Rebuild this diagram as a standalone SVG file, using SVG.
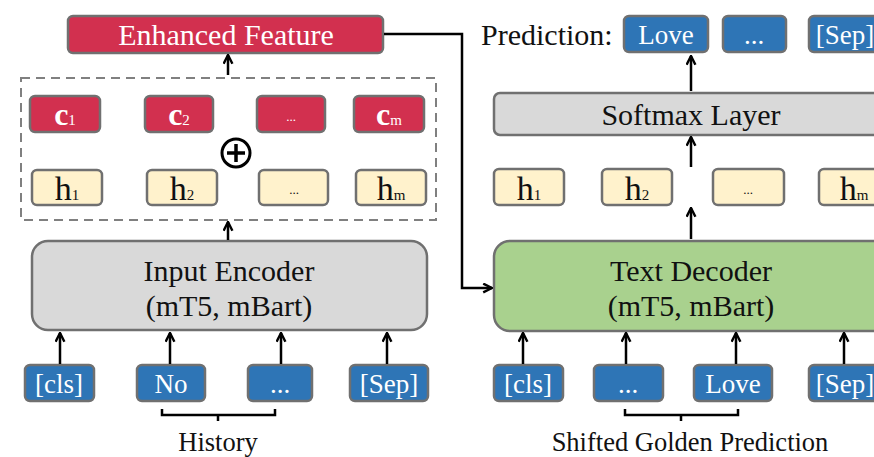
<svg xmlns="http://www.w3.org/2000/svg" width="874" height="457" viewBox="0 0 874 457">
<defs>
<marker id="ah" viewBox="0 0 10 10" refX="9" refY="5" markerWidth="11" markerHeight="11" markerUnits="userSpaceOnUse" orient="auto">
<path d="M1,1 L9,5 L1,9" fill="none" stroke="#000" stroke-width="2.2"/>
</marker>
<style>
text{font-family:"Liberation Serif","Times New Roman",serif;text-anchor:middle}
.box{stroke:#707070;stroke-width:2.5}
.red{fill:#D2304F}
.blue{fill:#2E75B6}
.yel{fill:#FFF2CC}
.gray{fill:#D9D9D9}
.green{fill:#A9D18E}
.wt{fill:#fff}
.bt{fill:#111}
.big{font-size:30px}
.tok{font-size:27px}
.cv{font-size:32px;font-weight:bold}
.hv{font-size:34px}
.sub{font-size:15px;font-weight:normal}
.dots{font-size:13px}
.lbl{font-size:26.5px}
.arr{stroke:#000;stroke-width:2.5;fill:none;marker-end:url(#ah)}
.ln{stroke:#000;stroke-width:2.5;fill:none}
</style>
</defs>

<g id="enhanced-feature">
<rect class="box red" x="68" y="16" width="315" height="37" rx="5"/>
<text class="wt big" x="226" y="45">Enhanced Feature</text>
</g>

<g id="dashed-group">
<rect x="21" y="78" width="415" height="142" fill="none" stroke="#808080" stroke-width="2" stroke-dasharray="9,6"/>
</g>

<g id="c1"><rect class="box red" x="30" y="96" width="70" height="36" rx="5"/><text class="wt" x="65" y="125"><tspan class="cv">c</tspan><tspan class="sub">1</tspan></text></g>
<g id="c2"><rect class="box red" x="145" y="96" width="68" height="36" rx="5"/><text class="wt" x="179" y="125"><tspan class="cv">c</tspan><tspan class="sub">2</tspan></text></g>
<g id="c-dots"><rect class="box red" x="257" y="96" width="68" height="36" rx="5"/><text class="wt dots" x="291" y="121">...</text></g>
<g id="cm"><rect class="box red" x="354" y="96" width="70" height="36" rx="5"/><text class="wt" x="389" y="125"><tspan class="cv">c</tspan><tspan class="sub">m</tspan></text></g>

<g id="oplus">
<circle cx="236" cy="153" r="14" fill="#fff" stroke="#000" stroke-width="3"/>
<path d="M236,144 V162 M227,153 H245" stroke="#000" stroke-width="3.5"/>
</g>

<g id="h1-enc"><rect class="box yel" x="32" y="170" width="70" height="35" rx="5"/><text class="bt" x="67" y="200"><tspan class="hv">h</tspan><tspan class="sub">1</tspan></text></g>
<g id="h2-enc"><rect class="box yel" x="147" y="170" width="70" height="35" rx="5"/><text class="bt" x="182" y="200"><tspan class="hv">h</tspan><tspan class="sub">2</tspan></text></g>
<g id="hdots-enc"><rect class="box yel" x="259" y="170" width="69" height="35" rx="5"/><text class="bt dots" x="294" y="194">...</text></g>
<g id="hm-enc"><rect class="box yel" x="356" y="170" width="70" height="35" rx="5"/><text class="bt" x="391" y="200"><tspan class="hv">h</tspan><tspan class="sub">m</tspan></text></g>

<g id="input-encoder">
<rect class="box gray" x="32" y="241" width="395" height="89" rx="16"/>
<text class="bt big" x="229" y="281">Input Encoder</text>
<text class="bt big" x="229" y="316">(mT5, mBart)</text>
</g>

<g id="tok-cls-enc"><rect class="box blue" x="25" y="365" width="69" height="36" rx="5"/><text class="wt tok" x="59" y="393">[cls]</text></g>
<g id="tok-no"><rect class="box blue" x="137" y="365" width="68" height="36" rx="5"/><text class="wt tok" x="171" y="393">No</text></g>
<g id="tok-dots-enc"><rect class="box blue" x="248" y="365" width="64" height="36" rx="5"/><text class="wt tok" x="280" y="393">...</text></g>
<g id="tok-sep-enc"><rect class="box blue" x="350" y="365" width="78" height="36" rx="5"/><text class="wt tok" x="389" y="393">[Sep]</text></g>

<g id="history-label">
<path class="ln" d="M162,409 V415 H275 V409 M218,415 V421"/>
<text class="bt lbl" x="218" y="451">History</text>
</g>

<g id="prediction-label"><text class="bt big" x="481" y="45" style="text-anchor:start">Prediction:</text></g>
<g id="pred-love"><rect class="box blue" x="624" y="16" width="84" height="36" rx="5"/><text class="wt tok" x="666" y="44">Love</text></g>
<g id="pred-dots"><rect class="box blue" x="723" y="16" width="63" height="36" rx="5"/><text class="wt tok" x="754" y="44">...</text></g>
<g id="pred-sep"><rect class="box blue" x="809" y="16" width="80" height="36" rx="5"/><text class="wt tok" x="845" y="44">[Sep]</text></g>

<g id="softmax">
<rect class="box gray" x="494" y="93" width="400" height="42" rx="6"/>
<text class="bt big" x="691" y="125">Softmax Layer</text>
</g>

<g id="h1-dec"><rect class="box yel" x="494" y="169" width="70" height="36" rx="5"/><text class="bt" x="529" y="200"><tspan class="hv">h</tspan><tspan class="sub">1</tspan></text></g>
<g id="h2-dec"><rect class="box yel" x="602" y="169" width="70" height="36" rx="5"/><text class="bt" x="637" y="200"><tspan class="hv">h</tspan><tspan class="sub">2</tspan></text></g>
<g id="hdots-dec"><rect class="box yel" x="713" y="169" width="71" height="36" rx="5"/><text class="bt dots" x="748" y="194">...</text></g>
<g id="hm-dec"><rect class="box yel" x="819" y="169" width="72" height="36" rx="5"/><text class="bt" x="854" y="200"><tspan class="hv">h</tspan><tspan class="sub">m</tspan></text></g>

<g id="text-decoder">
<rect class="box green" x="494" y="241" width="420" height="90" rx="16"/>
<text class="bt big" x="691" y="281">Text Decoder</text>
<text class="bt big" x="691" y="316">(mT5, mBart)</text>
</g>

<g id="tok-cls-dec"><rect class="box blue" x="494" y="365" width="69" height="36" rx="5"/><text class="wt tok" x="528" y="393">[cls]</text></g>
<g id="tok-dots-dec"><rect class="box blue" x="594" y="365" width="69" height="36" rx="5"/><text class="wt tok" x="628" y="393">...</text></g>
<g id="tok-love-dec"><rect class="box blue" x="694" y="365" width="78" height="36" rx="5"/><text class="wt tok" x="733" y="393">Love</text></g>
<g id="tok-sep-dec"><rect class="box blue" x="809" y="365" width="80" height="36" rx="5"/><text class="wt tok" x="845" y="393">[Sep]</text></g>

<g id="shifted-label">
<path class="ln" d="M625,409 V415 H738 V409 M681,415 V421"/>
<text class="bt lbl" x="690" y="451">Shifted Golden Prediction</text>
</g>

<g id="connectors">
<path class="arr" d="M228,75 V55"/>
<path class="arr" d="M228,240 V222"/>
<path class="arr" d="M60,364 V333"/>
<path class="arr" d="M170,364 V333"/>
<path class="arr" d="M281,364 V333"/>
<path class="arr" d="M387,364 V333"/>
<path class="arr" d="M384,34 H462 V288 H492"/>
<path class="arr" d="M691,91 V56"/>
<path class="arr" d="M691,167 V137"/>
<path class="arr" d="M691,239 V208"/>
<path class="arr" d="M523,364 V333"/>
<path class="arr" d="M626,364 V333"/>
<path class="arr" d="M736,364 V333"/>
<path class="arr" d="M844,364 V333"/>
</g>
</svg>
